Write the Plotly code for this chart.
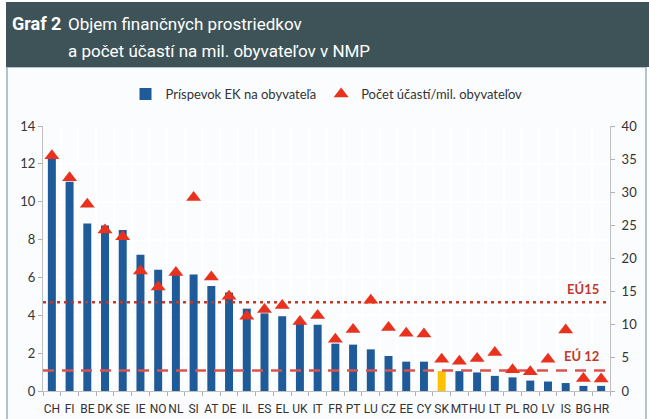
import plotly.graph_objects as go

countries = ["CH", "FI", "BE", "DK", "SE", "IE", "NO", "NL", "SI", "AT", "DE", "IL",
             "ES", "EL", "UK", "IT", "FR", "PT", "LU", "CZ", "EE", "CY", "SK", "MT",
             "HU", "LT", "PL", "RO", "LV", "IS", "BG", "HR"]
contribution = [12.45, 11.05, 8.85, 8.75, 8.5, 7.2, 6.4, 6.2, 6.15, 5.55, 5.2, 4.35,
                4.1, 3.95, 3.65, 3.5, 2.5, 2.45, 2.2, 1.85, 1.55, 1.55, 1.05, 1.05,
                0.98, 0.8, 0.72, 0.55, 0.5, 0.42, 0.27, 0.27]
participation = [35.5, 32.2, 28.2, 24.3, 23.3, 18.1, 15.7, 17.9, 29.2, 17.2, 14.3, 11.3,
                 12.3, 12.9, 10.5, 11.4, 7.8, 9.3, 13.7, 9.6, 8.7, 8.6, 4.8, 4.5,
                 4.9, 5.8, 3.2, 2.9, 4.8, 9.2, 1.9, 1.8]
eu15_avg = 13.4
eu12_avg = 3.1
highlight = "SK"

x = list(range(len(countries)))
bar_colors = ["#ffc000" if c == highlight else "#1f5a99" for c in countries]
xs_line = [-0.5, len(countries) - 0.5]

TITLEF = "Roboto, sans-serif"
TICKF = "Roboto, sans-serif"
LATO = "Lato, Open Sans, sans-serif"

fig = go.Figure()
fig.add_bar(x=x, y=contribution, marker=dict(color=bar_colors, line=dict(width=0)),
            width=0.45, name="Príspevok EK na obyvateľa", yaxis="y")
fig.add_scatter(x=xs_line, y=[eu15_avg] * 2, yaxis="y2", mode="lines",
                line=dict(color="#c0392b", width=2.5, dash="3px,4px"),
                showlegend=False, hoverinfo="skip")
fig.add_scatter(x=xs_line, y=[eu12_avg] * 2, yaxis="y2", mode="lines",
                line=dict(color="#d9534f", width=2.5, dash="11px,8px"),
                showlegend=False, hoverinfo="skip")
fig.add_scatter(x=x, y=participation, yaxis="y2", mode="markers",
                marker=dict(symbol="triangle-up", size=13, color="#e8321e", line=dict(width=0)),
                name="Počet účastí/mil. obyvateľov")

L, R, T, B = 43, 39, 126, 28
W, H = 649, 419
pw, ph = W - L - R, H - T - B


def px(v):
    return (v - L) / pw


def py(v):
    return (H - B - v) / ph


fig.update_layout(
    width=W, height=H,
    margin=dict(l=L, r=R, t=T, b=B, pad=0, autoexpand=False),
    paper_bgcolor="white", plot_bgcolor="#dde6f0",
    bargap=0.5,
    xaxis=dict(range=xs_line, tickmode="array", tickvals=x, ticktext=countries,
               tickangle=0, showgrid=False, ticks="outside", ticklen=7,
               tickcolor="rgba(0,0,0,0)", zeroline=False, automargin=False,
               showline=True, linecolor="#c0c0c0", linewidth=1,
               minor=dict(tickmode="linear", tick0=-0.5, dtick=1, showgrid=True,
                          gridcolor="white", gridwidth=1.5, ticks="outside",
                          ticklen=4, tickcolor="#b0b0b0"),
               tickfont=dict(family=TICKF, size=12, color="#333333")),
    yaxis=dict(range=[0, 14], dtick=2, ticks="outside", ticklen=4, tickcolor="#b0b0b0",
               showline=True, linecolor="#c0c0c0", gridcolor="white", gridwidth=1.5,
               zeroline=False, automargin=False,
               tickfont=dict(family=LATO, size=13, color="#333333")),
    yaxis2=dict(range=[0, 40], dtick=5, overlaying="y", side="right", ticks="outside",
                ticklen=4, tickcolor="#b0b0b0", showline=True, linecolor="#c0c0c0",
                showgrid=False, zeroline=False, ticklabelstandoff=4, automargin=False,
                tickfont=dict(family=LATO, size=13, color="#333333")),
    legend=dict(orientation="h", x=0.5, xanchor="center", y=py(94), yanchor="middle",
                font=dict(family=LATO, size=13, color="#333333"),
                bgcolor="rgba(0,0,0,0)", traceorder="normal"),
    shapes=[
        dict(type="rect", xref="paper", yref="paper", x0=px(7), x1=px(646),
             y0=py(440), y1=py(67), fillcolor="#fbfcfd",
             line=dict(color="#9aaec4", width=1.5), layer="below"),
        dict(type="rect", xref="paper", yref="paper", x0=px(6), x1=px(652),
             y0=py(67), y1=py(2), fillcolor="#3e5358", line=dict(width=0), layer="below"),
    ],
    annotations=[
        dict(xref="paper", yref="paper", x=px(10), y=py(11), xanchor="left", yanchor="top",
             text="<b>Graf 2</b>", showarrow=False, align="left",
             font=dict(family=TITLEF, size=18, color="white")),
        dict(xref="paper", yref="paper", x=px(66), y=py(12), xanchor="left", yanchor="top",
             text="Objem finančných prostriedkov", showarrow=False, align="left",
             font=dict(family=TITLEF, size=17, color="white")),
        dict(xref="paper", yref="paper", x=px(66), y=py(39), xanchor="left", yanchor="top",
             text="a počet účastí na mil. obyvateľov v NMP", showarrow=False, align="left",
             font=dict(family=TITLEF, size=17, color="white")),
        dict(xref="paper", yref="y2", x=px(601), y=eu15_avg, xanchor="right", yanchor="bottom",
             yshift=3, text="<b>EÚ15</b>", showarrow=False,
             font=dict(family=LATO, size=13, color="#c0392b")),
        dict(xref="paper", yref="y2", x=px(601), y=eu12_avg, xanchor="right", yanchor="bottom",
             yshift=4, text="<b>EÚ 12</b>", showarrow=False,
             font=dict(family=LATO, size=13, color="#c0392b")),
    ],
)

fig.write_html("out.html", config={"displayModeBar": False},
               post_script="document.body.style.margin='0';document.body.style.overflow='hidden';")
